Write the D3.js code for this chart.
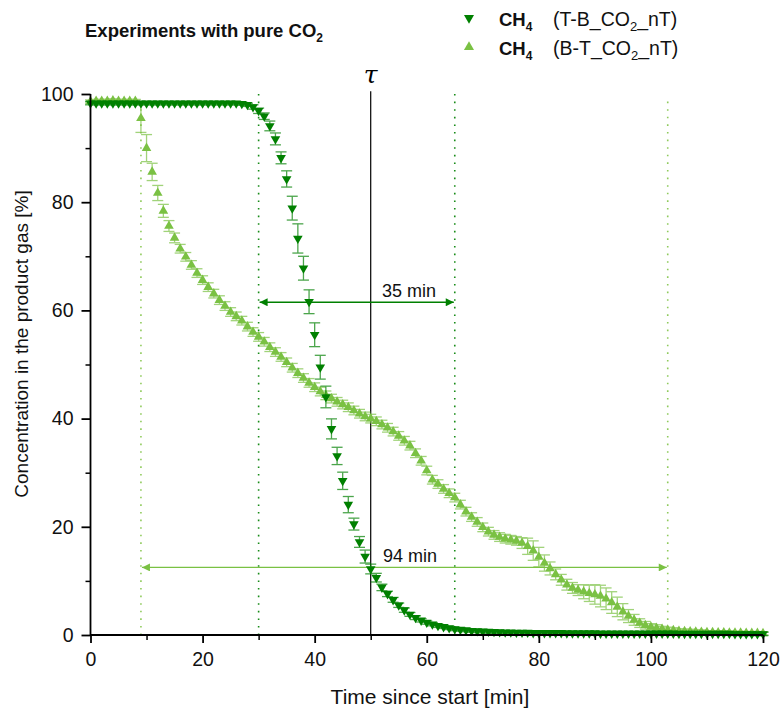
<!DOCTYPE html>
<html>
<head>
<meta charset="utf-8">
<script src="https://cdn.jsdelivr.net/npm/d3@7/dist/d3.min.js"></script>
<style>
  body { margin: 0; background: #fff; }
  svg { display: block; font-family: Arial, "Liberation Sans", sans-serif; }
</style>
</head>
<body>
<svg id="chart" width="781" height="710"></svg>
<script>
// Sampling times [min]
const time = [0,1,2,3,4,5,6,7,8,9,10,11,12,13,14,15,16,17,18,19,20,21,22,23,24,25,26,27,28,29,
  30,31,32,33,34,35,36,37,38,39,40,41,42,43,44,45,46,47,48,49,50,51,52,53,54,55,56,57,58,59,
  60,61,62,63,64,65,66,67,68,69,70,71,72,73,74,75,76,77,78,79,80,81,82,83,84,85,86,87,88,89,
  90,91,92,93,94,95,96,97,98,99,100,101,102,103,104,105,106,107,108,109,110,111,112,113,114,115,116,117,118,119,120];

// CH4 (T-B_CO2_nT): concentration [%] and standard deviation
const tbMean = [98.3,98.3,98.3,98.3,98.3,98.3,98.3,98.3,98.3,98.3,98.3,98.3,98.3,98.3,98.3,98.3,98.3,98.3,98.3,98.3,
  98.3,98.3,98.3,98.3,98.3,98.3,98.3,98.2,98.0,97.6,96.9,95.9,94.1,91.7,88.2,84.3,78.9,73.3,67.8,61.6,
  55.5,49.5,44.0,38.1,33.1,28.5,24.1,20.5,17.2,14.5,12.2,10.6,8.8,7.6,6.5,5.5,4.6,3.8,3.2,2.7,
  2.3,2.0,1.7,1.5,1.3,1.1,1.0,0.9,0.8,0.75,0.7,0.65,0.6,0.55,0.5,0.5,0.45,0.45,0.45,0.4,
  0.4,0.4,0.4,0.4,0.4,0.35,0.35,0.35,0.35,0.35,0.35,0.3,0.3,0.3,0.3,0.3,0.3,0.3,0.3,0.3,
  0.3,0.3,0.3,0.3,0.3,0.25,0.25,0.25,0.25,0.25,0.25,0.25,0.25,0.25,0.25,0.2,0.2,0.2,0.2,0.2,0.2];
const tbErr = [0.3,0.3,0.3,0.3,0.3,0.3,0.3,0.3,0.3,0.3,0.3,0.3,0.3,0.3,0.3,0.3,0.3,0.3,0.3,0.3,
  0.3,0.3,0.3,0.3,0.3,0.3,0.3,0.3,0.3,0.4,0.5,0.6,0.9,1.1,1.1,1.5,2.2,2.7,2.2,2.2,
  2.2,2.2,2.0,1.85,1.6,1.6,1.5,1.1,1.0,1.2,0.9,0.8,0.6,0.5,0.45,0.4,0.4,0.35,0.35,0.3,
  0.3,0.3,0.3,0.3,0.3,0.3,0.3,0.3,0.3,0.3,0.3,0.3,0.3,0.3,0.3,0.3,0.3,0.3,0.3,0.3,
  0.3,0.3,0.3,0.3,0.3,0.3,0.3,0.3,0.3,0.3,0.3,0.3,0.3,0.3,0.3,0.3,0.3,0.3,0.3,0.3,
  0.3,0.3,0.3,0.3,0.3,0.3,0.3,0.3,0.3,0.3,0.3,0.3,0.3,0.3,0.3,0.3,0.3,0.3,0.3,0.3,0.3];

// CH4 (B-T_CO2_nT): concentration [%] and standard deviation
const btMean = [98.6,98.7,98.7,98.7,98.8,98.7,98.7,98.7,98.7,95.5,90.0,85.6,81.7,78.4,75.6,73.4,71.4,69.9,68.4,66.9,
  65.6,64.3,63.1,61.9,60.8,59.7,58.9,58.1,57.0,56.0,55.1,54.2,53.2,52.3,51.4,50.4,49.4,48.4,47.5,46.6,
  45.8,45.0,44.3,43.7,43.1,42.6,42.1,41.5,40.9,40.4,40.0,39.5,38.9,38.3,37.6,36.8,35.9,35.0,33.6,32.2,
  30.4,28.7,27.9,27.0,26.2,25.4,24.1,22.8,21.8,20.9,19.9,19.1,18.5,18.1,17.8,17.6,17.4,17.0,16.4,15.6,
  14.4,13.3,12.3,11.2,10.2,9.3,8.7,8.3,8.0,7.7,7.5,7.2,6.7,6.0,5.2,4.3,3.5,2.8,2.2,1.8,
  1.5,1.3,1.1,0.95,0.85,0.75,0.7,0.65,0.6,0.55,0.5,0.5,0.45,0.45,0.4,0.4,0.4,0.35,0.35,0.35,0.3];
const btErr = [0.3,0.3,0.3,0.3,0.3,0.3,0.3,0.3,0.3,2.6,2.5,1.6,1.4,1.2,1.0,0.9,0.8,0.8,0.8,0.8,
  0.8,0.8,0.8,0.8,0.8,0.8,0.8,0.8,0.8,0.8,0.8,0.8,0.8,0.8,0.8,0.8,0.8,0.8,0.8,0.8,
  0.8,0.8,0.8,0.8,0.8,0.8,0.8,0.8,0.8,0.8,0.8,0.8,0.8,0.8,0.8,0.8,0.8,0.8,0.8,0.8,
  0.8,0.8,0.8,0.8,0.8,0.8,0.8,0.8,0.8,0.8,0.8,0.8,0.8,0.8,0.8,0.8,0.8,1.0,1.5,1.8,
  1.8,1.5,1.2,1.0,1.0,1.0,1.0,1.0,1.3,1.5,1.8,2.0,2.0,2.0,1.8,1.5,1.2,1.0,0.8,0.7,
  0.6,0.6,0.5,0.5,0.5,0.4,0.4,0.4,0.4,0.4,0.3,0.3,0.3,0.3,0.3,0.3,0.3,0.3,0.3,0.3,0.3];

// Axis ticks
const xTicksMajor = [0, 20, 40, 60, 80, 100, 120];
const xTicksMinor = [10, 30, 50, 70, 90, 110];
const yTicksMajor = [0, 20, 40, 60, 80, 100];
const yTicksMinor = [10, 30, 50, 70, 90];

// Breakthrough markers
const tau = 50;
const tbBounds = [30, 65];   // 35 min window
const btBounds = [9, 103];   // 94 min window
const tbSpanLevel = 61.5;
const btSpanLevel = 12.5;
const btBoundTop = 98.6;

const darkGreen = "#008000";
const lightGreen = "#7AC143";
const textColor = "#111";

const svg = d3.select("#chart");
const x = d3.scaleLinear().domain([0, 120]).range([90.5, 763]);
const y = d3.scaleLinear().domain([0, 100]).range([635, 94]);

// Defs: arrow heads
const defs = svg.append("defs");
function arrowMarker(id, color) {
  defs.append("marker")
    .attr("id", id).attr("viewBox", "0 0 10 10")
    .attr("refX", 10).attr("refY", 5)
    .attr("markerWidth", 11).attr("markerHeight", 8)
    .attr("markerUnits", "userSpaceOnUse")
    .attr("orient", "auto-start-reverse")
    .append("path").attr("d", "M0,0 L10,5 L0,10 Z").attr("fill", color);
}
arrowMarker("arrDark", darkGreen);
arrowMarker("arrLight", lightGreen);

// Title
const title = svg.append("text").attr("x", 85).attr("y", 37)
  .attr("font-size", 18.5).attr("font-weight", "bold").attr("fill", textColor);
title.append("tspan").text("Experiments with pure CO");
title.append("tspan").attr("font-size", 12).attr("dy", 5).text("2");

// Legend
const legendRows = [
  { label: "(T-B_CO", tail: "_nT)", color: darkGreen, down: true, yy: 18 },
  { label: "(B-T_CO", tail: "_nT)", color: lightGreen, down: false, yy: 47 }
];
legendRows.forEach(r => {
  svg.append("path")
    .attr("d", d3.symbol(d3.symbolTriangle, 44)())
    .attr("transform", `translate(469,${r.yy}) rotate(${r.down ? 180 : 0})`)
    .attr("fill", r.color);
  const t1 = svg.append("text").attr("x", 499).attr("y", r.yy + 8)
    .attr("font-size", 18.5).attr("font-weight", "bold").attr("fill", textColor);
  t1.append("tspan").text("CH");
  t1.append("tspan").attr("font-size", 12).attr("dy", 5).text("4");
  const t2 = svg.append("text").attr("x", 553).attr("y", r.yy + 8)
    .attr("font-size", 19.5).attr("fill", textColor);
  t2.append("tspan").text(r.label);
  t2.append("tspan").attr("font-size", 13).attr("dy", 5).text("2");
  t2.append("tspan").attr("dy", -5).text(r.tail);
});

// Dotted boundary lines
tbBounds.forEach(b => {
  svg.append("line").attr("x1", x(b)).attr("x2", x(b))
    .attr("y1", y(100)).attr("y2", y(0))
    .attr("stroke", darkGreen).attr("stroke-width", 1.6)
    .attr("stroke-dasharray", "1.6,6").attr("opacity", 0.9);
});
btBounds.forEach(b => {
  svg.append("line").attr("x1", x(b)).attr("x2", x(b))
    .attr("y1", y(btBoundTop)).attr("y2", y(0))
    .attr("stroke", "#8fca5c").attr("stroke-width", 1.6)
    .attr("stroke-dasharray", "1.6,6");
});

// Tau line
svg.append("line").attr("x1", x(tau)).attr("x2", x(tau))
  .attr("y1", y(100.5)).attr("y2", y(0))
  .attr("stroke", "#000").attr("stroke-width", 1.2);
svg.append("text").attr("x", x(tau)).attr("y", 83)
  .attr("text-anchor", "middle").attr("font-family", "'DejaVu Serif', 'Liberation Serif', serif")
  .attr("font-style", "italic").attr("font-size", 25).attr("fill", "#000").text("τ");

// Span arrows
svg.append("line").attr("x1", x(tbBounds[0]) + 1).attr("x2", x(tbBounds[1]) - 1)
  .attr("y1", y(tbSpanLevel)).attr("y2", y(tbSpanLevel))
  .attr("stroke", darkGreen).attr("stroke-width", 1.4)
  .attr("marker-start", "url(#arrDark)").attr("marker-end", "url(#arrDark)");
svg.append("text").attr("x", 382).attr("y", y(tbSpanLevel) - 5)
  .attr("font-size", 18).attr("fill", textColor).text("35 min");

svg.append("line").attr("x1", x(btBounds[0]) + 1).attr("x2", x(btBounds[1]) - 1)
  .attr("y1", y(btSpanLevel)).attr("y2", y(btSpanLevel))
  .attr("stroke", lightGreen).attr("stroke-width", 1.4)
  .attr("marker-start", "url(#arrLight)").attr("marker-end", "url(#arrLight)");
svg.append("text").attr("x", 383).attr("y", y(btSpanLevel) - 5)
  .attr("font-size", 18).attr("fill", textColor).text("94 min");

// Series with error bars
function drawSeries(means, errs, color, down) {
  const g = svg.append("g");
  const pts = time.map((t, i) => ({ t, v: means[i], e: errs[i] }));
  const eb = g.append("g").attr("stroke", color).attr("stroke-width", 1.3).attr("opacity", 0.7);
  pts.forEach(p => {
    const cx = x(p.t), y1 = y(p.v + p.e), y2 = y(p.v - p.e);
    eb.append("line").attr("x1", cx).attr("x2", cx).attr("y1", y1).attr("y2", y2);
    eb.append("line").attr("x1", cx - 5.5).attr("x2", cx + 5.5).attr("y1", y1).attr("y2", y1);
    eb.append("line").attr("x1", cx - 5.5).attr("x2", cx + 5.5).attr("y1", y2).attr("y2", y2);
  });
  const sym = d3.symbol(d3.symbolTriangle, 40)();
  g.append("g").selectAll("path").data(pts).join("path")
    .attr("d", sym)
    .attr("transform", d => `translate(${x(d.t)},${y(d.v)}) rotate(${down ? 180 : 0})`)
    .attr("fill", color);
}
drawSeries(btMean, btErr, lightGreen, false);
drawSeries(tbMean, tbErr, darkGreen, true);

// Axes
const axisG = svg.append("g").attr("stroke", "#000");
axisG.append("line").attr("x1", x(0)).attr("x2", x(120)).attr("y1", y(0)).attr("y2", y(0)).attr("stroke-width", 1.8);
axisG.append("line").attr("x1", x(0)).attr("x2", x(0)).attr("y1", y(0) + 0.9).attr("y2", y(100)).attr("stroke-width", 1.8);

const xAxis = d3.axisBottom(x).tickValues(xTicksMajor).tickSize(8).tickPadding(9).tickFormat(d3.format("d"));
const gx = svg.append("g").attr("transform", `translate(0,${y(0)})`).call(xAxis);
gx.select(".domain").remove();
gx.selectAll(".tick line").attr("stroke-width", 1.8);
gx.selectAll(".tick text").attr("font-size", 19.5).attr("fill", textColor).attr("font-family", "Arial, 'Liberation Sans', sans-serif");
svg.append("g").attr("transform", `translate(0,${y(0)})`)
  .call(d3.axisBottom(x).tickValues(xTicksMinor).tickSize(5).tickFormat(""))
  .call(g => g.select(".domain").remove())
  .selectAll(".tick line").attr("stroke-width", 1.5);

const yAxis = d3.axisLeft(y).tickValues(yTicksMajor).tickSize(9).tickPadding(8).tickFormat(d3.format("d"));
const gy = svg.append("g").attr("transform", `translate(${x(0)},0)`).call(yAxis);
gy.select(".domain").remove();
gy.selectAll(".tick line").attr("stroke-width", 1.8);
gy.selectAll(".tick text").attr("font-size", 19.5).attr("fill", textColor).attr("font-family", "Arial, 'Liberation Sans', sans-serif");
svg.append("g").attr("transform", `translate(${x(0)},0)`)
  .call(d3.axisLeft(y).tickValues(yTicksMinor).tickSize(5).tickFormat(""))
  .call(g => g.select(".domain").remove())
  .selectAll(".tick line").attr("stroke-width", 1.5);

// Axis titles
svg.append("text").attr("x", 430).attr("y", 704)
  .attr("text-anchor", "middle").attr("font-size", 21).attr("fill", textColor)
  .text("Time since start [min]");
svg.append("text").attr("transform", "translate(28,344) rotate(-90)")
  .attr("text-anchor", "middle").attr("font-size", 19).attr("fill", textColor)
  .text("Concentration in the product gas [%]");
</script>
</body>
</html>
